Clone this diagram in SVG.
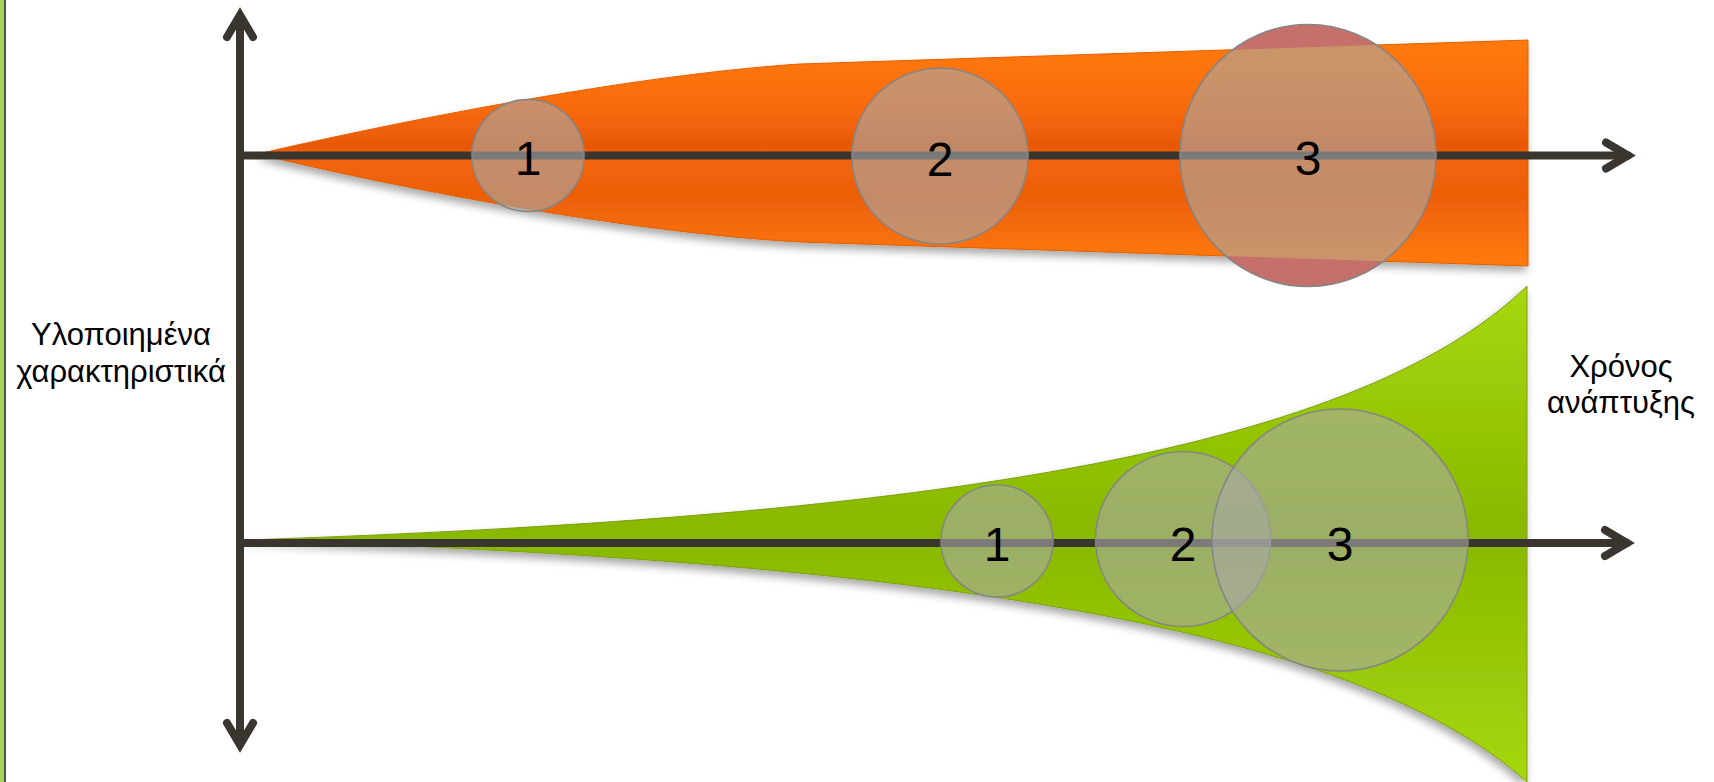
<svg xmlns="http://www.w3.org/2000/svg" width="1714" height="782" viewBox="0 0 1714 782">
<style>
.axis{stroke:#3b3530;stroke-width:8;fill:none;stroke-linecap:round}
.head{stroke:#3b3530;stroke-width:8;fill:none;stroke-linecap:round;stroke-linejoin:miter;stroke-miterlimit:10}
.bub{fill:#a8a8a8;fill-opacity:0.6;stroke:#858585;stroke-width:1.5}
.num{font-family:"Liberation Sans",Arial,sans-serif;font-size:48px;fill:#000;text-anchor:middle}
.lbl{font-family:"Liberation Sans",Arial,sans-serif;font-size:31px;fill:#000;text-anchor:middle}
</style>
<defs>
<linearGradient id="gOr" x1="0" y1="0" x2="0" y2="1">
<stop offset="0" stop-color="#ff7a0e"/>
<stop offset="0.3" stop-color="#f86a08"/>
<stop offset="0.47" stop-color="#e85806"/>
<stop offset="0.55" stop-color="#f26508"/>
<stop offset="0.68" stop-color="#ec5e06"/>
<stop offset="1" stop-color="#ff7a0e"/>
</linearGradient>
<linearGradient id="gGr" x1="0" y1="0" x2="0" y2="1">
<stop offset="0" stop-color="#a6d80c"/>
<stop offset="0.5" stop-color="#88b800"/>
<stop offset="1" stop-color="#a6d80c"/>
</linearGradient>
<filter id="sh" x="-5%" y="-10%" width="110%" height="125%">
<feGaussianBlur in="SourceAlpha" stdDeviation="4"/>
<feOffset dx="-2" dy="5" result="b"/>
<feComponentTransfer><feFuncA type="linear" slope="0.35"/></feComponentTransfer>
<feMerge><feMergeNode/><feMergeNode in="SourceGraphic"/></feMerge>
</filter>
<path id="orangeBand" d="M262,153 C380,126 620,76 800,64 L1528,40 L1528,266 L800,242 C620,232 380,184 262,155 Z"/>
<clipPath id="c3clip"><ellipse cx="1308" cy="155.5" rx="128" ry="131"/></clipPath>
</defs>

<g id="border">
<rect x="0" y="0" width="4" height="782" fill="#a6d05c"/>
<rect x="4" y="0" width="2" height="782" fill="#4c5442"/>
</g>

<g id="band-top">
<use href="#orangeBand" fill="url(#gOr)" stroke="#e06000" stroke-width="1" filter="url(#sh)"/>
</g>
<g id="band-bottom">
<path d="M245,540 C900,518 1350,458 1527,286 L1527,782 C1350,622 900,560 245,540 Z" fill="url(#gGr)" stroke="#7f9e12" stroke-width="1" filter="url(#sh)"/>
</g>

<g id="connectors">
<line class="axis" x1="240" y1="16" x2="240" y2="744"/>
<polyline class="head" points="227,37 240,15 253,37"/>
<polyline class="head" points="227,723 240,745 253,723"/>
<line class="axis" x1="240" y1="155.5" x2="1628" y2="155.5" stroke-linecap="butt"/>
<polyline class="head" points="1606,142.5 1628,155.5 1606,168.5"/>
<line class="axis" x1="240" y1="543" x2="1627" y2="543" stroke-linecap="butt"/>
<polyline class="head" points="1605,530 1627,543 1605,556"/>
</g>

<g id="top-circle-3-base">
<ellipse cx="1308" cy="155.5" rx="128" ry="131" fill="#f01d0d"/>
<g clip-path="url(#c3clip)">
<use href="#orangeBand" fill="url(#gOr)"/>
<line class="axis" x1="1170" y1="155.5" x2="1450" y2="155.5" stroke-linecap="butt"/>
</g>
</g>

<g id="top-1"><circle class="bub" cx="528" cy="155.5" r="56"/><text class="num" x="528" y="175">1</text></g>
<g id="top-2"><circle class="bub" cx="940" cy="156" r="88"/><text class="num" x="940" y="176">2</text></g>
<g id="top-3"><ellipse class="bub" cx="1308" cy="155.5" rx="128" ry="131"/><text class="num" x="1308" y="175">3</text></g>

<g id="bot-1"><circle class="bub" cx="997" cy="541" r="56"/><text class="num" x="997" y="561">1</text></g>
<g id="bot-2"><circle class="bub" cx="1183" cy="539" r="87.5"/><text class="num" x="1183" y="561">2</text></g>
<g id="bot-3"><ellipse class="bub" cx="1340" cy="540" rx="128" ry="131"/><text class="num" x="1340" y="561">3</text></g>

<g id="label-y">
<text class="lbl" x="121" y="345">Υλοποιημένα</text>
<text class="lbl" x="121" y="382">χαρακτηριστικά</text>
</g>
<g id="label-x">
<text class="lbl" x="1621" y="377">Χρόνος</text>
<text class="lbl" x="1621" y="413">ανάπτυξης</text>
</g>
</svg>
